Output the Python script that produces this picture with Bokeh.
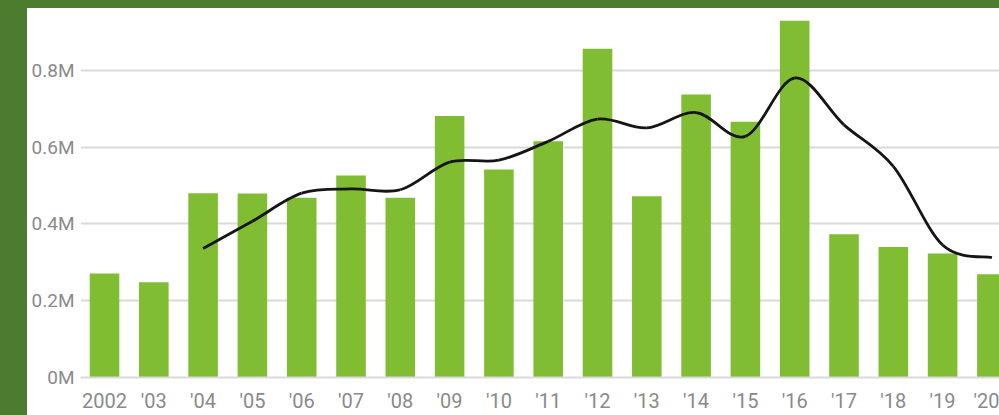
from bokeh.plotting import figure
from bokeh.models import Range1d, FixedTicker
from bokeh.embed import file_html
from bokeh.resources import INLINE

# ---- data (values in millions) ----
years = list(range(2002, 2021))
year_labels = ["2002", "'03", "'04", "'05", "'06", "'07", "'08", "'09", "'10", "'11",
               "'12", "'13", "'14", "'15", "'16", "'17", "'18", "'19", "'20"]
totals = [0.271, 0.248, 0.480, 0.479, 0.468, 0.526, 0.468, 0.681, 0.542, 0.615,
          0.856, 0.472, 0.737, 0.666, 0.929, 0.373, 0.340, 0.323, 0.269]
trend_years = list(range(2004, 2021))
trend = [0.336, 0.407, 0.480, 0.491, 0.489, 0.561, 0.566, 0.615, 0.673, 0.650,
         0.690, 0.628, 0.780, 0.658, 0.550, 0.345, 0.312]
y_ticks = [0, 0.2, 0.4, 0.6, 0.8]
y_tick_labels = ["0M", "0.2M", "0.4M", "0.6M", "0.8M"]

BAR = "#80bd33"
FRAME_GREEN = "#4e7c2f"
GRID = "#dadada"
LABEL = "#8a8a8a"

p = figure(width=972, height=407, output_backend="svg", toolbar_location=None,
           x_range=Range1d(2001.513, 2020.154), y_range=Range1d(0, 0.961),
           min_border_left=53, min_border_right=0, min_border_top=0,
           min_border_bottom=37, background_fill_color="white",
           border_fill_color="white", outline_line_color=None)
# green card frame drawn as shadows outside the plot box (does not change its size)
g = FRAME_GREEN
p.styles = {"margin-left": "27px", "margin-top": "8px",
            "box-shadow": f"-27px 0 0 0 {g}, 0 -8px 0 0 {g}, -27px -8px 0 0 {g}"}

p.vbar(x=years, top=totals, width=0.6, fill_color=BAR, line_color=None)

# smooth trend line: cubic segments between the read points (Catmull-Rom handles)
n = len(trend)
x0, y0, x1, y1, cx0, cy0, cx1, cy1 = [], [], [], [], [], [], [], []
for i in range(n - 1):
    pm = max(i - 1, 0)
    pp = min(i + 2, n - 1)
    x0.append(trend_years[i]); y0.append(trend[i])
    x1.append(trend_years[i + 1]); y1.append(trend[i + 1])
    cx0.append(trend_years[i] + (trend_years[i + 1] - trend_years[pm]) / 6)
    cy0.append(trend[i] + (trend[i + 1] - trend[pm]) / 6)
    cx1.append(trend_years[i + 1] - (trend_years[pp] - trend_years[i]) / 6)
    cy1.append(trend[i + 1] - (trend[pp] - trend[i]) / 6)
p.bezier(x0=x0, y0=y0, x1=x1, y1=y1, cx0=cx0, cy0=cy0, cx1=cx1, cy1=cy1,
         line_color="#151515", line_width=2.8)

# axes
p.xaxis.ticker = FixedTicker(ticks=years)
p.xaxis.major_label_overrides = {y: l for y, l in zip(years, year_labels)}
p.yaxis.ticker = FixedTicker(ticks=y_ticks)
p.yaxis.major_label_overrides = {t: l for t, l in zip(y_ticks, y_tick_labels)}
for ax in (p.xaxis[0], p.yaxis[0]):
    ax.major_tick_line_color = None
    ax.minor_tick_line_color = None
    ax.major_label_text_font = "Roboto"
    ax.major_label_text_color = LABEL
p.xaxis.axis_line_color = GRID
p.xaxis.axis_line_width = 2
p.xaxis.major_label_text_font_size = "20px"
p.xaxis.major_label_standoff = 5
p.yaxis.axis_line_color = None
p.yaxis.major_label_text_font_size = "19px"
p.yaxis.major_label_standoff = 0

p.xgrid.grid_line_color = None
p.ygrid.grid_line_color = GRID
p.ygrid.grid_line_width = 2

open("out.html", "w").write(file_html(p, INLINE))
